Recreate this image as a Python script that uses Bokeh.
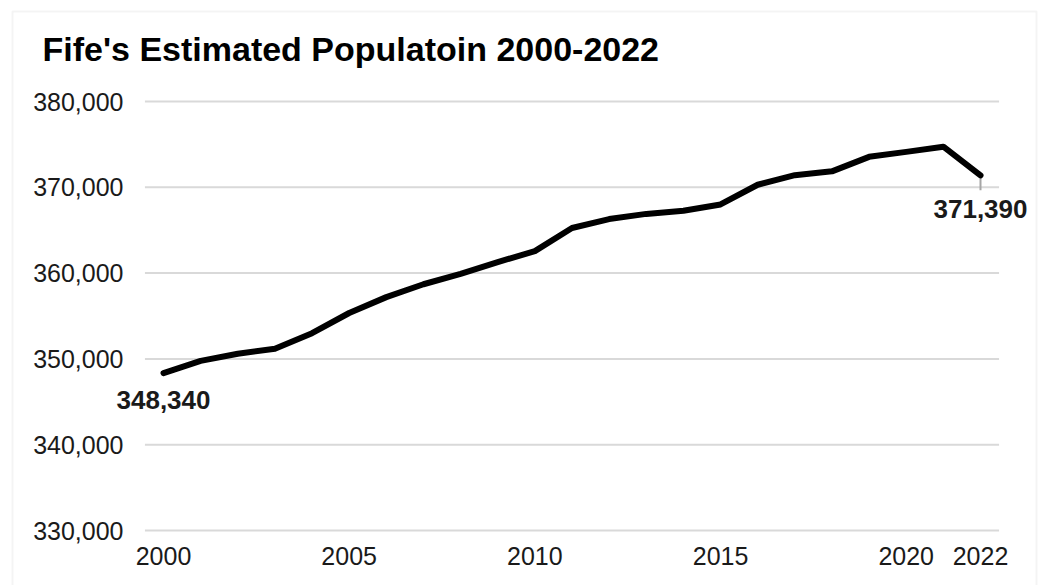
from bokeh.plotting import figure
from bokeh.models import (Range1d, FixedTicker, NumeralTickFormatter,
                          Label, BoxAnnotation)
from bokeh.embed import file_html
from bokeh.resources import INLINE
import math

# ---- data ----
years = list(range(2000, 2023))
population = [348340, 349770, 350600, 351180, 353000, 355350, 357200, 358700,
              359900, 361280, 362560, 365260, 366300, 366900, 367260, 368000,
              370300, 371410, 371860, 373550, 374130, 374730, 371390]
x_ticks = [2000, 2005, 2010, 2015, 2020, 2022]
y_ticks = [330000, 340000, 350000, 360000, 370000, 380000]
title_text = "Fife's Estimated Populatoin 2000-2022"

FONT = "Liberation Sans"
W, H = 1050, 585

# layout geometry (pixels): plot area spans the whole canvas
px_x0, px_x1 = 163.0, 980.0          # where first / last year sit
px_y0, px_y1 = 530.0, 101.0          # where lowest / highest tick sit
ppx = (px_x1 - px_x0) / (years[-1] - years[0])
ppy = (px_y0 - px_y1) / (y_ticks[-1] - y_ticks[0])
x_lo = years[0] - px_x0 / ppx
x_hi = years[-1] + (W - px_x1) / ppx
y_lo = y_ticks[0] - (H - px_y0) / ppy
y_hi = y_ticks[-1] + px_y1 / ppy

p = figure(width=W, height=H, output_backend="svg", toolbar_location=None,
           x_range=Range1d(x_lo, x_hi), y_range=Range1d(y_lo, y_hi),
           min_border_left=0, min_border_right=0, min_border_top=0,
           min_border_bottom=0)

p.outline_line_color = None
p.background_fill_color = "white"
p.border_fill_color = "white"
p.xgrid.grid_line_color = None
p.ygrid.grid_line_color = None

# chart-area border
p.add_layout(BoxAnnotation(left=12, right=1036, top=H - 11, bottom=-50,
                           left_units="screen", right_units="screen",
                           top_units="screen", bottom_units="screen",
                           fill_color=None, line_color="#d9d9d9",
                           line_width=2, level="underlay"))

# title
p.add_layout(Label(x=42, y=H - 48, x_units="screen", y_units="screen",
                   text=title_text, text_font=FONT, text_font_size="34px",
                   text_font_style="bold", text_color="#000000",
                   text_align="left", text_baseline="alphabetic"))

for ax in (p.xaxis[0], p.yaxis[0]):
    ax.axis_line_color = None
    ax.major_tick_line_color = None
    ax.minor_tick_line_color = None
    ax.major_tick_out = 0
    ax.major_tick_in = 0
    ax.major_label_text_font = FONT
    ax.major_label_text_font_size = "25px"
    ax.major_label_text_color = "#1a1a1a"

p.xaxis.ticker = FixedTicker(ticks=x_ticks)
p.xaxis.major_label_standoff = -(H - 546)
p.yaxis.ticker = FixedTicker(ticks=y_ticks)
p.yaxis.formatter = NumeralTickFormatter(format="0,0")
p.yaxis.major_label_standoff = -123

# horizontal gridlines spanning half a year beyond the data
n = len(y_ticks)
p.segment(x0=[years[0] - 0.5] * n, x1=[years[-1] + 0.5] * n,
          y0=y_ticks, y1=y_ticks, line_color="#d9d9d9", line_width=2)

# leader line for last label
p.ray(x=[years[-1]], y=[population[-1]], length=15, length_units="screen",
      angle=-math.pi / 2, line_color="#a6a6a6", line_width=2)

p.line(years, population, line_color="black", line_width=6,
       line_join="round", line_cap="round")

for idx, off in ((0, -27), (-1, -34)):
    p.add_layout(Label(x=years[idx], y=population[idx],
                       text=f"{population[idx]:,}",
                       text_font=FONT, text_font_size="26px",
                       text_font_style="bold", text_color="#1a1a1a",
                       text_align="center", text_baseline="middle",
                       y_offset=off))

open("out.html", "w").write(file_html(p, INLINE))
